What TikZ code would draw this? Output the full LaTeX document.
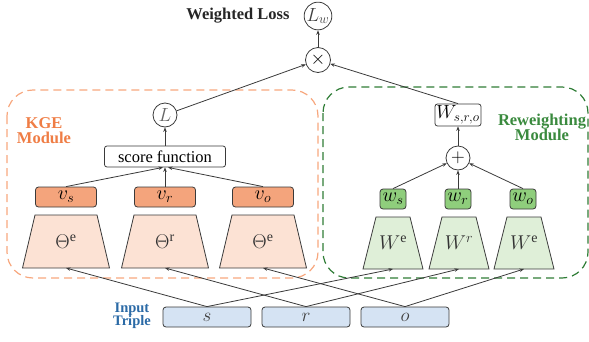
\documentclass[tikz,border=0pt]{standalone}
\usepackage{fix-cm}
\usepackage{fontspec}
\setmainfont{Liberation Serif}
\usetikzlibrary{arrows.meta}

\definecolor{kgeline}{HTML}{F7A77E}
\definecolor{kgetext}{HTML}{EF7D45}
\definecolor{kgevec}{HTML}{F4A47C}
\definecolor{kgetrap}{HTML}{FCE2D4}
\definecolor{rwline}{HTML}{2F7D36}
\definecolor{rwtext}{HTML}{3A8A3E}
\definecolor{rwvec}{HTML}{8FCE7C}
\definecolor{rwtrap}{HTML}{DFEFD8}
\definecolor{inblue}{HTML}{D5E3F3}
\definecolor{intext}{HTML}{2B6AA6}
\definecolor{edge}{HTML}{3A3A3A}

% trapezoidal encoder: name, centre x, top y, bottom y, top width, bottom width, fill, label
\newcommand\trapbox[8]{%
  \filldraw[draw=edge, line width=0.8pt, fill=#7]
    ({#2-#5/2},#3) -- ({#2+#5/2},#3) -- ({#2+#6/2},#4) -- ({#2-#6/2},#4) -- cycle;
  \node[inner sep=0pt, font=\fontsize{20}{22}\selectfont, text=black!80] (#1) at (#2,{(#3+#4)/2}) {#8};
  \coordinate (#1-b) at (#2,#4);
}

\begin{document}
\begin{tikzpicture}[x=1pt, y=-1pt,
  conn/.style={draw=edge, line width=0.8pt},
  arr/.style={conn, -{Stealth[length=4.5pt,width=3.5pt]}},
  opnode/.style={circle, draw=edge, line width=0.8pt, minimum size=24pt, inner sep=0pt,
                 font=\fontsize{19}{20}\selectfont},
  vecbox/.style={rectangle, rounded corners=3pt, draw=edge, line width=0.8pt,
                 minimum height=20pt, inner sep=0pt, font=\fontsize{20}{22}\selectfont},
  inbox/.style={rectangle, rounded corners=3pt, draw=edge, line width=0.8pt, fill=inblue,
                minimum width=88pt, minimum height=20pt, inner sep=0pt,
                font=\fontsize{19}{20}\selectfont, text=black!75},
  plainbox/.style={rectangle, rounded corners=2.5pt, draw=edge, line width=0.8pt,
                   minimum height=21pt, inner sep=2pt, font=\fontsize{16.5}{18}\selectfont},
  modlabel/.style={font=\fontsize{16.5}{18}\selectfont\bfseries, align=center}
]
\useasboundingbox (0,0) rectangle (589,341);

% module frames
\draw[kgeline, line width=1.2pt, dash pattern=on 8pt off 5pt, rounded corners=26pt]
  (7,90) rectangle (318,278);
\draw[rwline, line width=1.2pt, dash pattern=on 8pt off 5pt, rounded corners=26pt]
  (323,87) rectangle (588,278);

\node[modlabel, text=kgetext] (kgelab) at (44,131) {KGE\\[-3pt]Module};
\node[modlabel, text=rwtext] (rwlab) at (542,127) {Reweighting\\[-3pt]Module};
\node[font=\fontsize{14.5}{16}\selectfont\bfseries, align=center, text=intext]
  (inlab) at (132,316) {Input\\[-3pt]Triple};

% top: weighted loss
\node[font=\fontsize{16.5}{18}\selectfont\bfseries, text=black!85] (wltext) at (238,16) {Weighted Loss};
\node[opnode, minimum size=23pt, text=black!75] (Lw) at (318,16) {$L_w$};
\node[opnode, minimum size=25pt] (X) at (318,60) {$\times$};

% KGE module
\node[opnode, text=black!60] (L) at (165,115) {$L$};
\node[plainbox, minimum width=121pt] (score) at (165,156.5) {score function};

\node[vecbox, fill=kgevec, minimum width=61pt] (vs) at (66,197) {$v_s$};
\node[vecbox, fill=kgevec, minimum width=61pt] (vr) at (165,197) {$v_r$};
\node[vecbox, fill=kgevec, minimum width=61pt] (vo) at (263,197) {$v_o$};

\trapbox{te1}{66}{215}{268}{62}{87}{kgetrap}{$\Theta^{\mathrm{e}}$}
\trapbox{tr}{165}{215}{268}{62}{87}{kgetrap}{$\Theta^{\mathrm{r}}$}
\trapbox{te2}{263}{215}{268}{62}{87}{kgetrap}{$\Theta^{\mathrm{e}}$}

% reweighting module
\node[plainbox, minimum width=46pt, minimum height=22pt, inner sep=1pt, font=\fontsize{19}{20}\selectfont] (Wsro) at (458,115) {$W_{s,r,o}$};
\node[opnode] (plus) at (458,158) {$+$};

\node[vecbox, fill=rwvec, minimum width=26pt] (ws) at (393,199) {$w_s$};
\node[vecbox, fill=rwvec, minimum width=26pt] (wr) at (458,199) {$w_r$};
\node[vecbox, fill=rwvec, minimum width=26pt] (wo) at (523,199) {$w_o$};

\trapbox{we1}{393}{217}{269}{34}{60}{rwtrap}{$W^{\mathrm{e}}$}
\trapbox{wrr}{459}{217}{269}{34}{60}{rwtrap}{$W^{r}$}
\trapbox{we2}{524}{217}{269}{34}{60}{rwtrap}{$W^{\mathrm{e}}$}

% input triple
\node[inbox] (s) at (207,317) {$s$};
\node[inbox] (r) at (306,317) {$r$};
\node[inbox] (o) at (405,317) {$o$};

% inputs to encoders
\draw[arr] (s.north) -- (te1-b);
\draw[arr] (s.north) -- (we1-b);
\draw[arr] (r.north) -- (tr-b);
\draw[arr] (r.north) -- (wrr-b);
\draw[arr] (o.north) -- (te2-b);
\draw[arr] (o.north) -- (we2-b);

% embeddings to score function
\draw[arr] (vs.north) -- ([xshift=-2pt]score.south);
\draw[arr] (vr.north) -- (score.south);
\draw[arr] (vo.north) -- ([xshift=3pt]score.south);
\draw[arr] (score) -- (L);

% weights to sum
\draw[arr] (ws.north) -- (plus);
\draw[arr] (wr) -- (plus);
\draw[arr] (wo.north) -- (plus);
\draw[arr] (plus) -- (Wsro);

% combination
\draw[arr] (L) -- (X);
\draw[arr] (Wsro.north) -- (X);
\draw[arr] (X) -- (Lw);
\end{tikzpicture}
\end{document}
